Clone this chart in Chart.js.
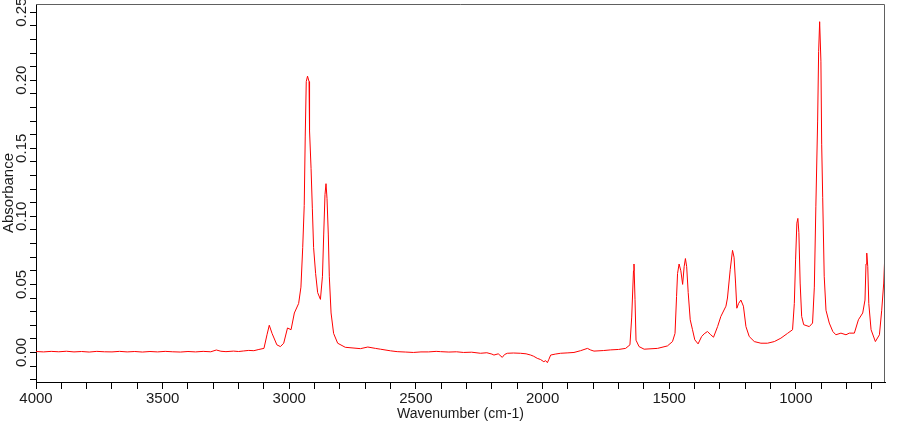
<!DOCTYPE html>
<html>
<head>
<meta charset="utf-8">
<script src="https://cdn.jsdelivr.net/npm/chart.js@4.4.1/dist/chart.umd.min.js"></script>
<style>
  html, body { margin: 0; padding: 0; background: #fff; }
  canvas { display: block; }
</style>
</head>
<body>
<canvas id="spectrum" width="910" height="425"></canvas>
<script>
// wavenumbers (cm-1) from left to right
const wavenumbers = [
  4000, 3970, 3940, 3910, 3880, 3850, 3820, 3790, 3760, 3730, 3700, 3670, 3640, 3610,
  3580, 3550, 3520, 3490, 3460, 3430, 3400, 3370, 3340, 3310, 3288, 3270, 3250, 3220,
  3200, 3180, 3160, 3140, 3120, 3100,
  3088, 3079, 3068, 3049, 3035, 3022, 3007, 2993, 2980, 2963, 2954, 2947, 2941, 2937,
  2933, 2928, 2922, 2920, 2914, 2909, 2904, 2896, 2888, 2877, 2869, 2864, 2859, 2855,
  2851, 2846, 2842, 2835, 2825, 2809, 2779, 2719, 2690, 2660, 2640, 2600, 2574, 2540,
  2510, 2480, 2450, 2420, 2403, 2370, 2340, 2312, 2280, 2245, 2220, 2200, 2192, 2175,
  2159, 2150, 2139, 2115, 2087, 2065, 2047, 2035, 2021, 2008, 1995, 1988, 1981, 1975,
  1968, 1950, 1929, 1900, 1876, 1850, 1823, 1810, 1797, 1760, 1731, 1700, 1672, 1655,
  1648, 1641, 1639, 1635, 1631, 1619, 1599, 1546,
  1507, 1487, 1477, 1471, 1467, 1461, 1454, 1447, 1441, 1436, 1431, 1425, 1417, 1408,
  1399, 1386, 1372, 1362, 1349, 1336, 1325, 1309, 1296, 1276, 1270, 1259, 1250, 1244,
  1238, 1233, 1226, 1217, 1207, 1197, 1184, 1164, 1138, 1112, 1085, 1059, 1033, 1013,
  1006, 1001, 996, 992, 988, 983, 977, 969, 947, 934, 927, 921, 914, 910,
  906, 901, 898, 894, 888, 881, 868, 854, 842, 822, 802, 789, 769, 753,
  736, 727, 723, 720, 716, 712, 703, 686, 670, 661, 653, 648
];
const absorbance = [
  0.0007, 0.0004, 0.0008, 0.0005, 0.0009, 0.0004, 0.0007, 0.0003, 0.0008, 0.0005, 0.0004, 0.0008, 0.0004, 0.0007,
  0.0003, 0.0007, 0.0004, 0.0008, 0.0005, 0.0003, 0.0007, 0.0004, 0.0008, 0.0005, 0.0018, 0.0009, 0.0006, 0.0010,
  0.0007, 0.0011, 0.0015, 0.0013, 0.0022, 0.003,
  0.013, 0.020, 0.014, 0.0056, 0.0043, 0.0068, 0.018, 0.0167, 0.029, 0.036, 0.048, 0.077, 0.108, 0.159,
  0.199, 0.203, 0.199, 0.163, 0.135, 0.106, 0.077, 0.058, 0.044, 0.039, 0.056, 0.087, 0.116, 0.124,
  0.113, 0.087, 0.056, 0.029, 0.014, 0.0068, 0.0038, 0.0028, 0.0040, 0.0030, 0.0024, 0.0012, 0.0006, 0.0003,
  0.0, 0.0004, 0.0004, 0.0008, 0.0006, 0.0003, 0.0005, 0.0, 0.0002, -0.0006, -0.0002, -0.0012, -0.0019, -0.0010,
  -0.0036, -0.0015, -0.0006, -0.0004, -0.0006, -0.0010, -0.0019, -0.0028, -0.0043, -0.0052, -0.0068, -0.0060, -0.0075, -0.0050,
  -0.0019, -0.0012, -0.0006, -0.0003, 0.0, 0.0013, 0.003, 0.0018, 0.001, 0.0014, 0.0019, 0.0022, 0.003, 0.0056,
  0.026, 0.060, 0.065, 0.039, 0.009, 0.0043, 0.0024, 0.003,
  0.0048, 0.008, 0.014, 0.041, 0.058, 0.065, 0.060, 0.050, 0.063, 0.069, 0.063, 0.044, 0.024, 0.0167,
  0.0093, 0.0063, 0.0117, 0.0137, 0.0154, 0.013, 0.0112, 0.019, 0.0265, 0.034, 0.040, 0.061, 0.075, 0.070,
  0.051, 0.0325, 0.036, 0.0385, 0.034, 0.019, 0.0117, 0.008, 0.0068, 0.0068, 0.008, 0.0105, 0.014, 0.0167,
  0.036, 0.068, 0.095, 0.0985, 0.088, 0.051, 0.0265, 0.0204, 0.019, 0.0216, 0.048, 0.107, 0.170, 0.221,
  0.243, 0.214, 0.153, 0.114, 0.056, 0.031, 0.0216, 0.0154, 0.013, 0.0142, 0.013, 0.0142, 0.0142, 0.024,
  0.029, 0.0385, 0.065, 0.073, 0.063, 0.036, 0.0167, 0.008, 0.013, 0.031, 0.051, 0.075
];
// labelled ticks; unlabelled minor ticks fall in between
const xTickLabels = [4000, 3500, 3000, 2500, 2000, 1500, 1000];
const yTickLabels = [0.00, 0.05, 0.10, 0.15, 0.20, 0.25];

const textColor = "#1a1a1a";
Chart.defaults.font.family = "'Liberation Sans', Arial, sans-serif";
Chart.defaults.color = textColor;

// y tick labels are rotated in the original, Chart.js can't do that on a vertical axis
const rotatedYLabels = {
  id: "rotatedYLabels",
  afterDraw(chart) {
    const ctx = chart.ctx;
    const y = chart.scales.y;
    ctx.save();
    ctx.font = "15px 'Liberation Sans', Arial, sans-serif";
    ctx.fillStyle = textColor;
    ctx.textAlign = "center";
    ctx.textBaseline = "middle";
    yTickLabels.forEach((v) => {
      const py = y.getPixelForValue(v);
      ctx.save();
      ctx.translate(22, py);
      ctx.rotate(-Math.PI / 2);
      ctx.fillText(v.toFixed(2), 0, 0);
      ctx.restore();
    });
    ctx.restore();
  },
};

// grey frame on top and right side of the plot
const frame = {
  id: "frame",
  afterDraw(chart) {
    const { left, top, right, bottom } = chart.chartArea;
    const ctx = chart.ctx;
    ctx.save();
    ctx.strokeStyle = "#606060";
    ctx.lineWidth = 1;
    ctx.beginPath();
    ctx.moveTo(left, Math.round(top) + 0.5);
    ctx.lineTo(Math.round(right) - 0.5, Math.round(top) + 0.5);
    ctx.lineTo(Math.round(right) - 0.5, bottom);
    ctx.stroke();
    ctx.restore();
  },
};

new Chart(document.getElementById("spectrum"), {
  type: "line",
  data: {
    datasets: [
      {
        data: wavenumbers.map((w, i) => ({ x: w, y: absorbance[i] })),
        borderColor: "#ff0000",
        borderWidth: 1,
        pointRadius: 0,
        tension: 0,
      },
    ],
  },
  options: {
    responsive: false,
    animation: false,
    devicePixelRatio: 1,
    layout: { padding: { top: 4, right: 25, left: 0, bottom: 0 } },
    plugins: { legend: { display: false }, tooltip: { enabled: false } },
    scales: {
      x: {
        type: "linear",
        reverse: true,
        min: 648,
        max: 4000,
        afterFit: (s) => { s.height = 43; },
        ticks: {
          stepSize: 100,
          includeBounds: false,
          autoSkip: false,
          minRotation: 0,
          maxRotation: 0,
          padding: 1,
          font: { size: 15 },
          callback: (v) => (xTickLabels.includes(v) ? String(v) : ""),
        },
        grid: { drawOnChartArea: false, tickLength: 7, tickColor: "#000" },
        border: { color: "#000", width: 1 },
        title: {
          display: true,
          text: "Wavenumber (cm-1)",
          font: { size: 14 },
          padding: { top: 0, bottom: 2 },
        },
      },
      y: {
        min: -0.0217,
        max: 0.256,
        afterFit: (s) => { s.width = 36; },
        ticks: { stepSize: 0.01, includeBounds: false, display: false },
        grid: { drawOnChartArea: false, tickLength: 6, tickColor: "#000" },
        border: { color: "#000", width: 1 },
        title: {
          display: true,
          text: "Absorbance",
          font: { size: 15 },
          padding: { top: 0, bottom: 0 },
        },
      },
    },
  },
  plugins: [rotatedYLabels, frame],
});
</script>
</body>
</html>
